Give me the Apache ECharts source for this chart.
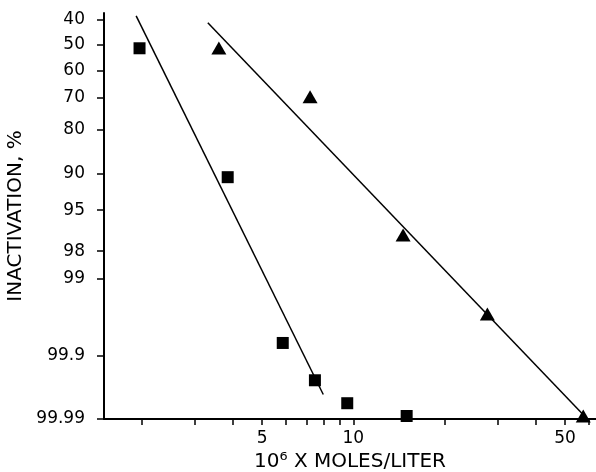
<!DOCTYPE html>
<html>
<head>
<meta charset="utf-8">
<script src="https://cdn.jsdelivr.net/npm/echarts@6/dist/echarts.min.js"></script>
<style>
html, body { margin: 0; padding: 0; background: #fff; }
#main { width: 596px; height: 472px; }
</style>
</head>
<body>
<div id="main"></div>
<script>
// 数据：浓度 (10^6 x mol/L) 和 失活率 (%)
var squareConc = [1.97, 3.85, 5.85, 7.47, 9.55, 15.0];
var squareInact = [51.3, 90.6, 99.85, 99.958, 99.982, 99.989];
var triangleConc = [3.6, 7.2, 14.6, 27.7, 57.4];
var triangleInact = [51.2, 69.7, 97.08, 99.63, 99.989];
// 拟合直线的两端
var squareLineConc = [1.92, 7.96];
var squareLineInact = [38.6, 99.975];
var triangleLineConc = [3.31, 59.0];
var triangleLineInact = [41.2, 99.990];
// 刻度
var yTickLabels = ['40', '50', '60', '70', '80', '90', '95', '98', '99', '99.9', '99.99'];
var xTicks = [2, 3, 4, 5, 6, 7, 8, 9, 10, 20, 30, 40, 50, 60];
var xTickLabels = [5, 10, 50];

// 正态分布反函数 (Acklam)
function probit(p) {
	var a = [-3.969683028665376e+01, 2.209460984245205e+02, -2.759285104469687e+02, 1.383577518672690e+02, -3.066479806614716e+01, 2.506628277459239e+00];
	var b = [-5.447609879822406e+01, 1.615858368580409e+02, -1.556989798598866e+02, 6.680131188771972e+01, -1.328068155288572e+01];
	var c = [-7.784894002430293e-03, -3.223964580411365e-01, -2.400758277161838e+00, -2.549732539343734e+00, 4.374664141464968e+00, 2.938163982698783e+00];
	var d = [7.784695709041462e-03, 3.224671290700398e-01, 2.445134137142996e+00, 3.754408661907416e+00];
	var pl = 0.02425, q, r;
	if (p < pl) {
		q = Math.sqrt(-2 * Math.log(p));
		return (((((c[0] * q + c[1]) * q + c[2]) * q + c[3]) * q + c[4]) * q + c[5]) / ((((d[0] * q + d[1]) * q + d[2]) * q + d[3]) * q + 1);
	}
	if (p <= 1 - pl) {
		q = p - 0.5;
		r = q * q;
		return (((((a[0] * r + a[1]) * r + a[2]) * r + a[3]) * r + a[4]) * r + a[5]) * q / (((((b[0] * r + b[1]) * r + b[2]) * r + b[3]) * r + b[4]) * r + 1);
	}
	q = Math.sqrt(-2 * Math.log(1 - p));
	return -(((((c[0] * q + c[1]) * q + c[2]) * q + c[3]) * q + c[4]) * q + c[5]) / ((((d[0] * q + d[1]) * q + d[2]) * q + d[3]) * q + 1);
}

function toPoints(conc, inact) {
	var pts = [];
	for (var i = 0; i < conc.length; i++) {
		pts.push([Math.log10(conc[i]), probit(inact[i] / 100)]);
	}
	return pts;
}

var yTickValues = yTickLabels.map(function (s) { return probit(parseFloat(s) / 100); });
var xTickValues = xTicks.map(function (v) { return Math.log10(v); });
var xLabelValues = xTickLabels.map(function (v) { return Math.log10(v); });

var font = 'DejaVu Sans';
var myChart = echarts.init(document.getElementById('main'));
var option = {
	animation: false,
	grid: { left: 104, right: 0, top: 13, bottom: 53, outerBoundsMode: 'none' },
	xAxis: {
		type: 'value',
		min: 0.1772,
		max: 1.801,
		name: '10\u2076 X MOLES/LITER',
		nameLocation: 'middle',
		nameGap: 33,
		nameTextStyle: { fontFamily: font, fontSize: 20, color: '#000' },
		axisLine: { onZero: false, lineStyle: { color: '#000', width: 2 } },
		axisTick: { customValues: xTickValues, length: 6, lineStyle: { color: '#000', width: 1.5 } },
		axisLabel: {
			customValues: xLabelValues,
			margin: 11,
			fontFamily: font,
			fontSize: 17,
			color: '#000',
			formatter: function (v) {
				return String(Math.round(Math.pow(10, v)));
			}
		},
		splitLine: { show: false }
	},
	yAxis: {
		type: 'value',
		inverse: true,
		min: -0.3187,
		max: 3.725,
		name: 'INACTIVATION, %',
		nameLocation: 'middle',
		nameGap: 74,
		nameTextStyle: { fontFamily: font, fontSize: 20, color: '#000' },
		axisLine: { onZero: false, lineStyle: { color: '#000', width: 2 } },
		axisTick: { customValues: yTickValues, length: 7, lineStyle: { color: '#000', width: 1.5 } },
		axisLabel: {
			customValues: yTickValues,
			margin: 19,
			fontFamily: font,
			fontSize: 17,
			color: '#000',
			formatter: function (v) {
				var best = 0;
				for (var i = 1; i < yTickValues.length; i++) {
					if (Math.abs(yTickValues[i] - v) < Math.abs(yTickValues[best] - v)) best = i;
				}
				return yTickLabels[best];
			}
		},
		splitLine: { show: false }
	},
	series: [
		{
			type: 'line',
			data: toPoints(squareLineConc, squareLineInact),
			symbol: 'none',
			lineStyle: { color: '#000', width: 1.5 }
		},
		{
			type: 'line',
			data: toPoints(triangleLineConc, triangleLineInact),
			symbol: 'none',
			lineStyle: { color: '#000', width: 1.5 }
		},
		{
			type: 'scatter',
			data: toPoints(squareConc, squareInact),
			symbol: 'rect',
			symbolSize: 12,
			itemStyle: { color: '#000', opacity: 1 }
		},
		{
			type: 'scatter',
			data: toPoints(triangleConc, triangleInact),
			symbol: 'triangle',
			symbolSize: [15, 13],
			itemStyle: { color: '#000', opacity: 1 }
		}
	]
};
myChart.setOption(option);
</script>
</body>
</html>
